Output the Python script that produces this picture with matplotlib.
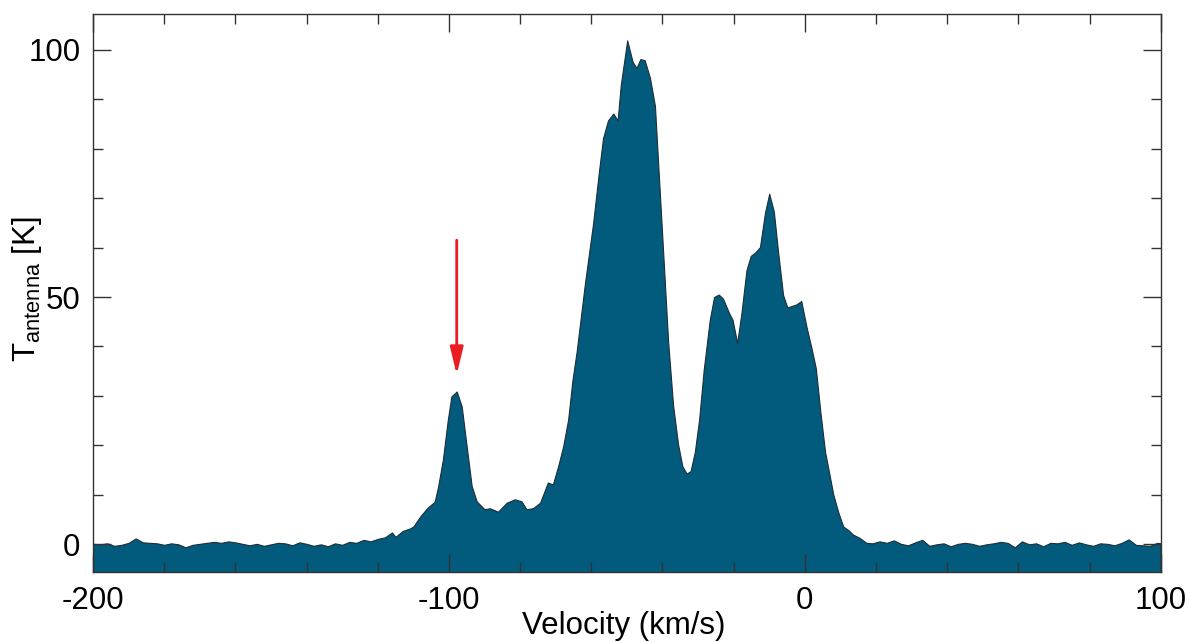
import matplotlib
matplotlib.use("Agg")
import matplotlib.pyplot as plt
from matplotlib.ticker import MultipleLocator

plt.rcParams['font.family'] = ['Liberation Sans', 'DejaVu Sans']
plt.rcParams['mathtext.fontset'] = 'custom'
plt.rcParams['mathtext.rm'] = 'Liberation Sans'
plt.rcParams['axes.unicode_minus'] = False

# spectrum: velocity (km/s) and antenna temperature (K)
velocity = [
    -200, -198, -196, -194, -192, -190, -188, -186, -184, -182,
    -180, -178, -176, -174, -172, -170, -168, -166, -164, -162,
    -160, -158, -156, -154, -152, -150, -148, -146, -144, -142,
    -140, -138, -136, -134, -132, -130, -128, -126, -124, -122,
    -120, -118, -116, -115, -113, -111, -110, -108, -106, -104,
    -103, -101.7, -100.3, -99.3, -97.8, -96.4, -95, -93.6, -92.2, -90,
    -88.5, -86.2, -83.8, -81.5, -79.6, -78.2, -76.4, -74.4, -72.2, -70.8,
    -69.3, -67.9, -66.5, -65.3, -64.1, -61.8, -59.5, -57.8, -56.7, -55.3,
    -53.8, -52.6, -51.7, -49.9, -48.4, -47.3, -46.2, -45, -43.5, -42.1,
    -41.2, -39.8, -38.4, -37, -35.6, -34.4, -33.2, -32.1, -30.9, -29.7,
    -28.4, -26.7, -25.5, -24.2, -23, -21.3, -20.3, -19, -17.8, -16.4,
    -15.2, -13.8, -12.6, -11.2, -10.0, -8.7, -7.5, -6.1, -4.9, -2.4,
    -1.0, 0.5, 1.9, 3.1, 4.4, 5.7, 8.0, 9.4, 10.8, 12.2,
    13.5, 15.4, 17.3, 19, 21, 23, 25, 27, 29, 31,
    33, 35, 37, 39, 41, 43, 45, 47, 49, 51,
    53, 55, 57, 59, 61, 63, 65, 67, 69, 71,
    73, 75, 77, 79, 81, 83, 85, 87, 89, 91,
    93, 95, 97, 99, 100,
]
t_antenna = [
    0.1, 0.0, 0.2, -0.3, -0.1, 0.3, 1.2, 0.4, 0.3, 0.2,
    -0.1, 0.2, 0.0, -0.6, -0.1, 0.1, 0.3, 0.5, 0.3, 0.6,
    0.4, 0.1, -0.2, 0.1, -0.3, 0.0, 0.3, 0.2, -0.2, 0.4,
    0.1, -0.3, 0.0, -0.4, 0.2, -0.1, 0.5, 0.3, 0.9, 0.6,
    1.1, 1.4, 2.4, 1.5, 2.7, 3.2, 3.6, 5.7, 7.4, 8.6,
    11.8, 17.1, 25.2, 29.9, 30.9, 27.9, 19.8, 11.8, 8.7, 7.1,
    7.3, 6.6, 8.4, 9.1, 8.7, 7.1, 7.3, 8.4, 12.5, 12.1,
    15.8, 19.8, 25.2, 33.1, 39.0, 52.6, 64.8, 75.6, 82.1, 85.7,
    87.1, 85.7, 92.9, 101.9, 97.6, 96.3, 98.1, 97.9, 94.3, 88.6,
    77.0, 59.1, 41.0, 28.1, 20.2, 15.8, 14.3, 14.8, 18.7, 25.2,
    35.3, 45.4, 50.0, 50.5, 49.7, 46.8, 45.4, 40.7, 46.8, 55.4,
    58.3, 59.1, 60.1, 67.0, 70.9, 67.3, 59.1, 50.4, 47.9, 48.5,
    49.2, 43.9, 39.6, 35.6, 26.6, 18.7, 10.1, 6.5, 3.6, 2.9,
    2.0, 1.3, 0.3, 0.2, 0.6, 0.3, 0.8, 0.1, -0.2, 0.4,
    0.9, -0.3, 0.0, 0.2, -0.4, 0.1, 0.3, 0.1, -0.3, 0.0,
    0.2, 0.5, 0.3, -0.6, 0.6, 0.0, 0.2, -0.4, 0.3, 0.2,
    0.5, -0.1, 0.4, 0.0, -0.3, 0.2, 0.1, -0.2, 0.3, 1.0,
    -0.1, -0.2, -0.3, 0.3, 0.2,
]

# arrow marking the small peak
arrow_v = -97.8
arrow_top = 61.5
arrow_tip = 34.3

fig = plt.figure(figsize=(11.89, 6.42), dpi=100)
ax = fig.add_axes([0.0782, 0.109, 0.898, 0.869])

ax.fill_between(velocity, t_antenna, -10, color='#025a7c',
                edgecolor='#1d2f38', linewidth=0.8)

ax.annotate('', xy=(arrow_v, arrow_tip), xytext=(arrow_v, arrow_top),
            arrowprops=dict(arrowstyle='-|>,head_length=1.66,head_width=0.4',
                            color='#ec1c24', lw=2, shrinkA=0, shrinkB=0))

ax.set_xlim(-200, 100)
ax.set_ylim(-5.6, 107.2)

ax.xaxis.set_major_locator(MultipleLocator(100))
ax.xaxis.set_minor_locator(MultipleLocator(20))
ax.yaxis.set_major_locator(MultipleLocator(50))
ax.yaxis.set_minor_locator(MultipleLocator(10))
ax.tick_params(which='both', direction='in', top=True, right=True,
               labelsize=22.5, color='#333333')
ax.tick_params(which='major', length=13, width=1)
ax.tick_params(which='minor', length=7, width=1)
ax.tick_params(axis='x', pad=10)
ax.tick_params(axis='y', pad=9)

for s in ax.spines.values():
    s.set_color('#333333')
    s.set_linewidth(1)

ax.set_xlabel('Velocity (km/s)', fontsize=22.5)
ax.set_ylabel(r'T$_{\mathrm{antenna}}$ [K]', fontsize=22.5)
ax.xaxis.set_label_coords(0.497, -0.070)
ax.yaxis.set_label_coords(-0.0459, 0.507)

fig.savefig('out.png', dpi=100)
